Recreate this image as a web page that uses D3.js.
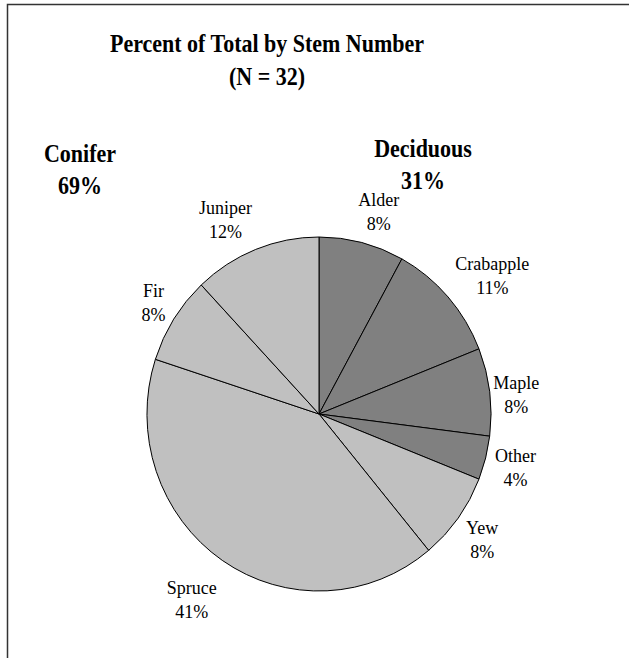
<!DOCTYPE html>
<html>
<head>
<meta charset="utf-8">
<script src="https://cdn.jsdelivr.net/npm/d3@7"></script>
<style>
  html, body { margin: 0; padding: 0; background: #fff; }
  svg { display: block; }
  text { font-family: "Liberation Serif"; fill: #000; }
</style>
</head>
<body>
<svg id="chart" width="629" height="658"></svg>
<script>
// Species, in clockwise order from twelve o'clock
const species = ["Alder", "Crabapple", "Maple", "Other", "Yew", "Spruce", "Fir", "Juniper"];
// Percent of total stems for each species
const percents = [8, 11, 8, 4, 8, 41, 8, 12];
// Group each species belongs to
const groups = ["Deciduous", "Deciduous", "Deciduous", "Deciduous", "Conifer", "Conifer", "Conifer", "Conifer"];
// Group totals shown in the upper corners
const groupNames = ["Conifer", "Deciduous"];
const groupTotals = [69, 31];

const titleLines = ["Percent of Total by Stem Number", "(N = 32)"];

const svg = d3.select("#chart");

// outer frame
svg.append("rect")
  .attr("x", 7.5).attr("y", 4.5)
  .attr("width", 700).attr("height", 700)
  .attr("fill", "none").attr("stroke", "#333").attr("stroke-width", 1.5);

// bold headings use a slightly condensed face
const condense = 0.88;

// title
const title = svg.append("text")
  .attr("transform", `translate(267,0) scale(${condense},1)`)
  .attr("text-anchor", "middle")
  .attr("font-size", 25).attr("font-weight", "bold");
title.selectAll("tspan").data(titleLines).join("tspan")
  .attr("x", 0).attr("y", (d, i) => 52 + i * 33)
  .text(d => d);

// group totals
const groupPos = { Conifer: { x: 80, y: 162 }, Deciduous: { x: 423, y: 157 } };
groupNames.forEach((g, i) => {
  const t = svg.append("text")
    .attr("transform", `translate(${groupPos[g].x},${groupPos[g].y}) scale(${condense},1)`)
    .attr("text-anchor", "middle")
    .attr("font-size", 25).attr("font-weight", "bold");
  t.append("tspan").attr("x", 0).attr("y", 0).text(g);
  t.append("tspan").attr("x", 0).attr("y", 32).text(groupTotals[i] + "%");
});

// pie
const cx = 319, cy = 414, r = 177, sx = 0.972;
const color = d3.scaleOrdinal().domain(["Conifer", "Deciduous"]).range(["#c0c0c0", "#808080"]);
const data = species.map((s, i) => ({ name: s, value: percents[i], group: groups[i] }));
const pie = d3.pie().value(d => d.value).sort(null);
const arcs = pie(data);
const arc = d3.arc().innerRadius(0).outerRadius(r);

const pg = svg.append("g").attr("transform", `translate(${cx},${cy}) scale(${sx},1)`);
pg.selectAll("path").data(arcs).join("path")
  .attr("d", arc)
  .attr("fill", d => color(d.data.group))
  .attr("stroke", "#000").attr("stroke-width", 1)
  .attr("vector-effect", "non-scaling-stroke")
  .attr("stroke-linejoin", "round");

// slice labels placed just outside the rim at each slice's mid angle
const gap = 10, lineH = 24, fs = 18;
const lg = svg.append("g");
arcs.forEach(a => {
  const mid = (a.startAngle + a.endAngle) / 2;
  const s = Math.sin(mid), c = Math.cos(mid);
  const px = cx + s * (r + gap) * sx;
  const py = cy - c * (r + gap + (c < -0.7 ? 12 : 0));
  const t = lg.append("text").attr("text-anchor", "middle").attr("font-size", fs);
  const l1 = t.append("tspan").text(a.data.name);
  const l2 = t.append("tspan").text(a.data.value + "%");
  const w = Math.max(l1.node().getComputedTextLength(), l2.node().getComputedTextLength());
  const h = lineH * 2;
  // upper-right labels near the axes sit a little closer in
  const nearAxis = c > 0 && s > 0 && (s < 0.3 || c < 0.3);
  const bx = px + Math.sign(s) * w / 2 - (nearAxis ? 6 : 0);
  const by = py - c * h / 2 + (nearAxis && c < 0.3 ? 5 : 0);
  l1.attr("x", bx).attr("y", by - 4);
  l2.attr("x", bx).attr("y", by - 4 + lineH);
});
</script>
</body>
</html>
